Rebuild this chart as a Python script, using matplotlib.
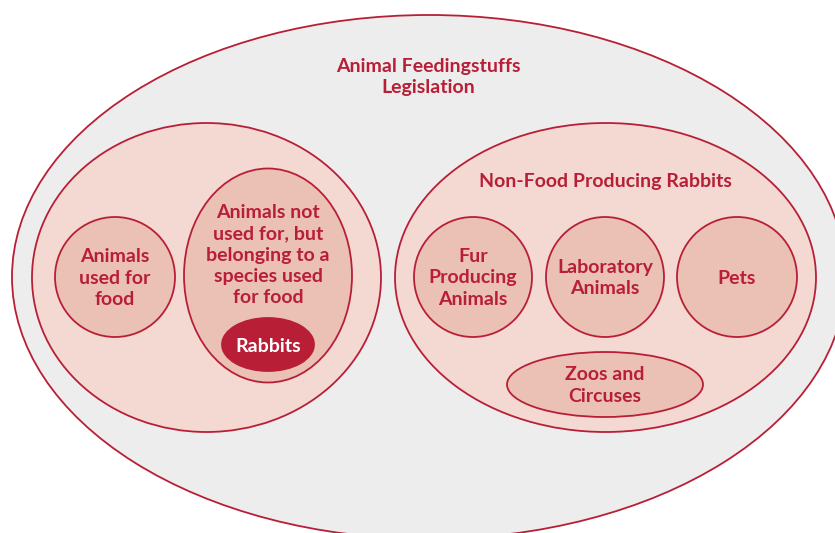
import matplotlib.pyplot as plt
from matplotlib.patches import Ellipse

# labels of each set in the diagram
title_label = 'Animal Feedingstuffs\nLegislation'
food_group_labels = ['Animals\nused for\nfood',
                     'Animals not\nused for, but\nbelonging to a\nspecies used\nfor food']
rabbit_label = 'Rabbits'
nonfood_title = 'Non-Food Producing Rabbits'
nonfood_labels = ['Fur\nProducing\nAnimals', 'Laboratory\nAnimals', 'Pets', 'Zoos and\nCircuses']

# layout in pixel units: (cx, cy, width, height)
outer_box = (429, 277, 834, 524)
left_box = (206.5, 277.5, 349, 309)
right_box = (605.5, 277.5, 421, 309)
food_boxes = [(115, 277, 120, 120), (268, 275.5, 168, 214)]
rabbit_box = (268, 344.5, 92, 53)
nonfood_boxes = [(473, 277, 118, 120), (605, 277, 118, 120),
                 (737, 277, 120, 120), (605, 384.5, 196, 65)]

RED = '#b81f37'
GREY = '#ededed'
PINK = '#f3d9d1'
ROSE = '#ebc0b5'


def blob(ax, box, face, lw=1.3):
    cx, cy, w, h = box
    ax.add_patch(Ellipse((cx, cy), w, h, facecolor=face,
                         edgecolor=RED, linewidth=lw))


def label(ax, x, y, text, color=RED, size=14):
    ax.text(x, y, text, ha='center', va='center', color=color,
            fontsize=size, fontweight='bold', linespacing=1.3,
            family=['Lato', 'DejaVu Sans'])


fig = plt.figure(figsize=(8.35, 5.33), dpi=100)
ax = fig.add_axes([0, 0, 1, 1])
ax.set_xlim(0, 835)
ax.set_ylim(533, 0)
ax.axis('off')

blob(ax, outer_box, GREY)
label(ax, 428, 77, title_label)

blob(ax, left_box, PINK)
blob(ax, right_box, PINK)

for box in food_boxes:
    blob(ax, box, ROSE)
label(ax, 115, 278, food_group_labels[0])
label(ax, 268, 255, food_group_labels[1])

blob(ax, rabbit_box, RED)
label(ax, 268, 346, rabbit_label, color='white')

label(ax, 605, 182, nonfood_title)
for box, text in zip(nonfood_boxes, nonfood_labels):
    blob(ax, box, ROSE)
    label(ax, box[0], box[1] + 1, text)

fig.savefig('out.png', dpi=100)
